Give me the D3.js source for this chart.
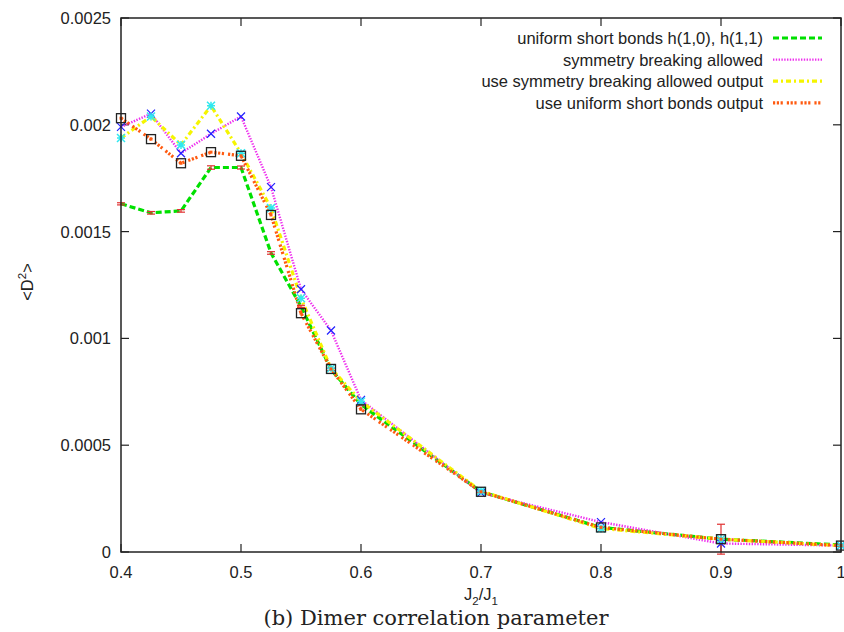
<!DOCTYPE html>
<html><head><meta charset="utf-8">
<script src="https://cdn.jsdelivr.net/npm/d3@7"></script>
<style>body{margin:0;background:#fff}svg{display:block}</style>
</head><body>
<svg id="chart" width="844" height="632"></svg>
<script>
// ---- data ----
const xs = [0.4, 0.425, 0.45, 0.475, 0.5, 0.525, 0.55, 0.575, 0.6, 0.7, 0.8, 0.9, 1.0];
const uniformShort = [0.00163, 0.001588, 0.001597, 0.0018, 0.0018, 0.0014, 0.00115, 0.000855, 0.00069, 0.000282, 0.000115, 0.00006, 0.000033];
const uniformErr   = [0.000005, 0.000006, 0.000006, 0.000008, 0.000007, 0.000006, 0.000005, 0.000005, 0.000005, 0.000005, 0.000005, 0.00007, 0.000005];
const symBreaking  = [0.00199, 0.002052, 0.001867, 0.001958, 0.002039, 0.001708, 0.00123, 0.001037, 0.000712, 0.000277, 0.00014, 0.00004, 0.00003];
const useSymOut    = [0.001938, 0.002039, 0.001906, 0.002089, 0.001867, 0.00161, 0.001188, 0.00086, 0.000705, 0.000285, 0.00011, 0.00006, 0.00003];
const useUniOut    = [0.002031, 0.001933, 0.00182, 0.001872, 0.001855, 0.001578, 0.001118, 0.000857, 0.000668, 0.000282, 0.000115, 0.00006, 0.00003];
const xTicks = [0.4, 0.5, 0.6, 0.7, 0.8, 0.9, 1];
const xTickLabels = ["0.4", "0.5", "0.6", "0.7", "0.8", "0.9", "1"];
const yTicks = [0, 0.0005, 0.001, 0.0015, 0.002, 0.0025];
const yTickLabels = ["0", "0.0005", "0.001", "0.0015", "0.002", "0.0025"];
const legendLabels = ["uniform short bonds h(1,0), h(1,1)", "symmetry breaking allowed", "use symmetry breaking allowed output", "use uniform short bonds output"];

// ---- layout ----
const L = 121, R = 841, T = 18, B = 552;
const svg = d3.select("#chart");
const x = d3.scaleLinear().domain([0.4, 1]).range([L, R]);
const y = d3.scaleLinear().domain([0, 0.0025]).range([B, T]);
const font = "'Liberation Sans', Arial, sans-serif";
const fs = 16.5;

const series = [
  {vals: uniformShort, color: "#00e000", width: 3.2, dash: "6,3"},
  {vals: symBreaking, color: "#ee30ee", width: 2.4, dash: "1.4,1.4"},
  {vals: useSymOut, color: "#f5f500", width: 3.2, dash: "5,3,2,3"},
  {vals: useUniOut, color: "#ff5a10", width: 3.2, dash: "2.2,1.6,2.2,1.6,2.2,4"}
];

// axes ticks (inward, mirrored)
const tl = 8;
const ax = svg.append("g");
xTicks.forEach((t, i) => {
  ax.append("line").attr("x1", x(t)).attr("x2", x(t)).attr("y1", B).attr("y2", B - tl).attr("stroke", "#222").attr("stroke-width", 1.2);
  ax.append("line").attr("x1", x(t)).attr("x2", x(t)).attr("y1", T).attr("y2", T + tl).attr("stroke", "#222").attr("stroke-width", 1.2);
  ax.append("text").attr("x", x(t)).attr("y", B + 26).attr("text-anchor", "middle")
    .attr("font-family", font).attr("font-size", fs).attr("fill", "#222").text(xTickLabels[i]);
});
yTicks.forEach((t, i) => {
  ax.append("line").attr("x1", L).attr("x2", L + tl).attr("y1", y(t)).attr("y2", y(t)).attr("stroke", "#222").attr("stroke-width", 1.2);
  ax.append("line").attr("x1", R).attr("x2", R - tl).attr("y1", y(t)).attr("y2", y(t)).attr("stroke", "#222").attr("stroke-width", 1.2);
  ax.append("text").attr("x", L - 10).attr("y", y(t) + 6).attr("text-anchor", "end")
    .attr("font-family", font).attr("font-size", fs).attr("fill", "#222").text(yTickLabels[i]);
});

// lines
const line = d3.line().x((d, i) => x(xs[i])).y(d => y(d));
series.forEach(s => {
  svg.append("path").datum(s.vals).attr("d", line).attr("fill", "none")
    .attr("stroke", s.color).attr("stroke-width", s.width).attr("stroke-dasharray", s.dash);
});

// error bars (red) on uniform series
const eb = svg.append("g").attr("stroke", "#e03030").attr("stroke-width", 1.2);
uniformShort.forEach((v, i) => {
  const cx = x(xs[i]), y1 = y(v - uniformErr[i]), y2 = y(v + uniformErr[i]);
  eb.append("line").attr("x1", cx).attr("x2", cx).attr("y1", y1).attr("y2", y2);
  eb.append("line").attr("x1", cx - 4).attr("x2", cx + 4).attr("y1", y1).attr("y2", y1);
  eb.append("line").attr("x1", cx - 4).attr("x2", cx + 4).attr("y1", y2).attr("y2", y2);
});

// blue x markers on symmetry breaking
const mk = svg.append("g");
symBreaking.forEach((v, i) => {
  const cx = x(xs[i]), cy = y(v), s = 4;
  mk.append("path").attr("d", `M${cx - s},${cy - s}L${cx + s},${cy + s}M${cx - s},${cy + s}L${cx + s},${cy - s}`)
    .attr("stroke", "#2020ff").attr("stroke-width", 1.2);
});
// cyan stars on use sym output
useSymOut.forEach((v, i) => {
  const cx = x(xs[i]), cy = y(v), s = 4;
  mk.append("path").attr("d", `M${cx - s},${cy - s}L${cx + s},${cy + s}M${cx - s},${cy + s}L${cx + s},${cy - s}M${cx - s},${cy}L${cx + s},${cy}M${cx},${cy - s}L${cx},${cy + s}`)
    .attr("stroke", "#30e8f0").attr("stroke-width", 1.5);
});
// black squares on use uniform output
useUniOut.forEach((v, i) => {
  const cx = x(xs[i]), cy = y(v), s = 4.5;
  mk.append("rect").attr("x", cx - s).attr("y", cy - s).attr("width", 2 * s).attr("height", 2 * s)
    .attr("fill", "none").attr("stroke", "#222").attr("stroke-width", 1.3);
});
useUniOut.forEach((v, i) => {
  mk.append("rect").attr("x", x(xs[i]) - 1.5).attr("y", y(v) - 1.5).attr("width", 3).attr("height", 3).attr("fill", "#ff5a10");
});

// frame
svg.append("rect").attr("x", L).attr("y", T).attr("width", R - L).attr("height", B - T)
  .attr("fill", "none").attr("stroke", "#222").attr("stroke-width", 1.5);

// legend
const lg = svg.append("g");
legendLabels.forEach((lab, i) => {
  const yy = 38 + i * 21.6;
  lg.append("text").attr("x", 763).attr("y", yy + 6).attr("text-anchor", "end")
    .attr("font-family", font).attr("font-size", fs).attr("fill", "#222").text(lab);
  lg.append("line").attr("x1", 773).attr("x2", 822).attr("y1", yy).attr("y2", yy)
    .attr("stroke", series[i].color).attr("stroke-width", series[i].width).attr("stroke-dasharray", series[i].dash);
});

// axis labels
const yl = svg.append("text").attr("transform", "translate(33,282) rotate(-90)").attr("text-anchor", "middle")
  .attr("font-family", font).attr("font-size", fs).attr("fill", "#222");
yl.append("tspan").text("<D");
yl.append("tspan").attr("dy", -7).attr("font-size", 11.5).text("2");
yl.append("tspan").attr("dy", 7).text(">");

const xl = svg.append("text").attr("x", 481).attr("y", 600).attr("text-anchor", "middle")
  .attr("font-family", font).attr("font-size", fs).attr("fill", "#222");
xl.append("tspan").text("J");
xl.append("tspan").attr("dy", 5).attr("font-size", 11.5).text("2");
xl.append("tspan").attr("dy", -5).text("/J");
xl.append("tspan").attr("dy", 5).attr("font-size", 11.5).text("1");

svg.append("text").attr("x", 436).attr("y", 625).attr("text-anchor", "middle")
  .attr("font-family", "'DejaVu Serif', 'Liberation Serif', serif").attr("font-size", 21).attr("fill", "#222")
  .text("(b) Dimer correlation parameter");
</script>
</body></html>
